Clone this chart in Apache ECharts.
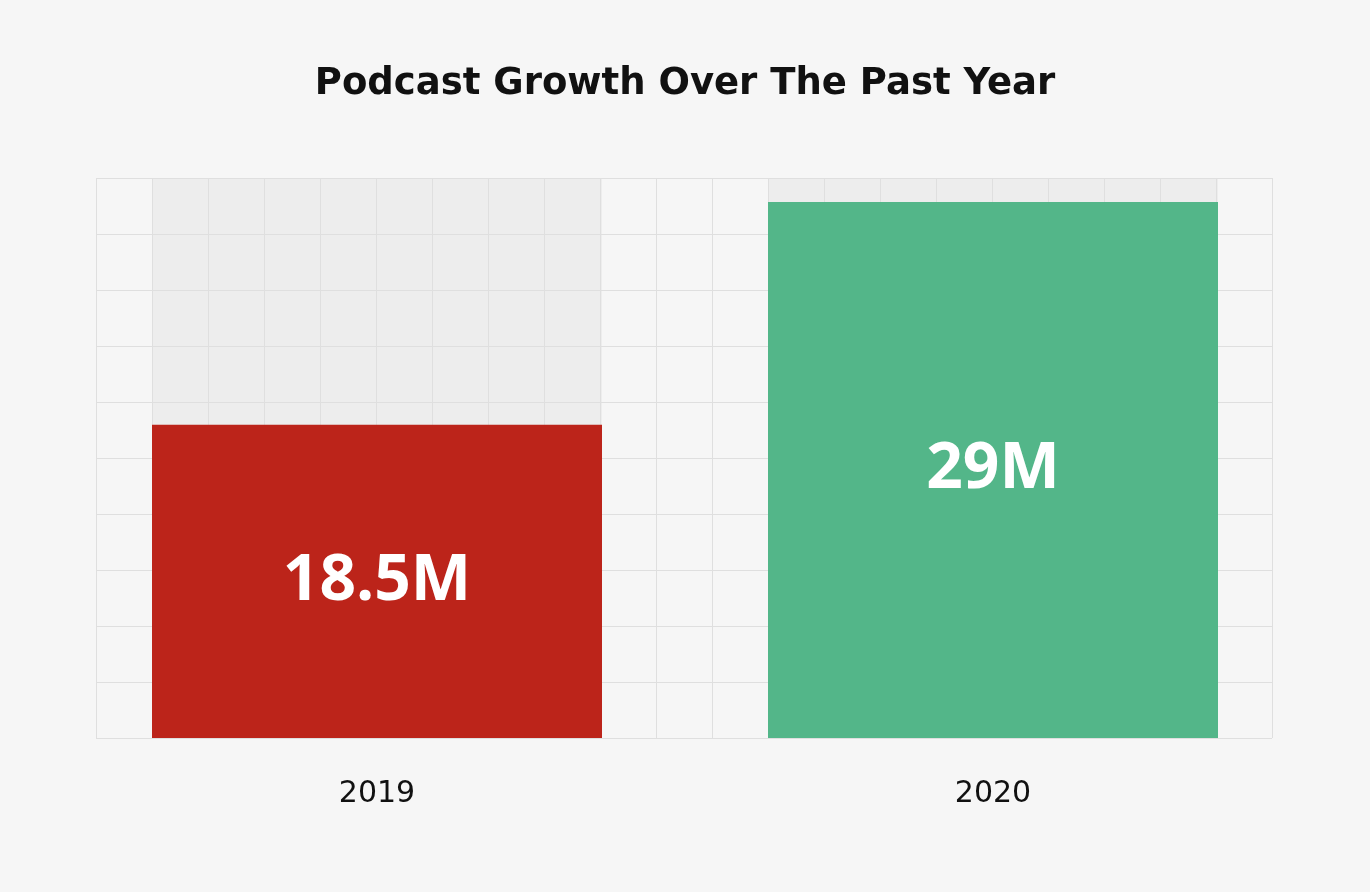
<!DOCTYPE html>
<html>
<head>
<meta charset="utf-8">
<script src="https://cdn.jsdelivr.net/npm/echarts@6/dist/echarts.min.js"></script>
<style>
html,body{margin:0;padding:0;background:#f6f6f6;}
#chart{width:1370px;height:892px;}
</style>
</head>
<body>
<div id="chart"></div>
<script>
const titleText = 'Podcast Growth Over The Past Year';
const categories = ['2019', '2020'];
const values = [18.5, 29];
const valueLabels = ['18.5M', '29M'];
const barColors = ['#bc241a', '#53b689'];

const yMin = 3.75, yMax = 30.125;

const chart = echarts.init(document.getElementById('chart'), null, {renderer: 'canvas'});
const option = {
  backgroundColor: '#f6f6f6',
  animation: false,
  title: {
    text: titleText,
    left: 'center',
    top: 61,
    textStyle: {fontFamily: 'DejaVu Sans', fontWeight: 'bold', fontSize: 37, color: '#111111'}
  },
  grid: [
    {left: 69, right: 69, top: 178, bottom: 154, containLabel: false},
    {left: 96, right: 98, top: 178, bottom: 154, containLabel: false}
  ],
  xAxis: [
    {
      type: 'category', gridIndex: 0, data: categories,
      axisLine: {show: false}, axisTick: {show: false}, splitLine: {show: false},
      axisLabel: {margin: 41, fontFamily: 'DejaVu Sans', fontWeight: 'normal', fontSize: 30, color: '#111111'}
    },
    {
      type: 'value', gridIndex: 1, min: 0, max: 21, interval: 1, z: 2,
      axisLine: {show: false}, axisTick: {show: false}, axisLabel: {show: false},
      splitLine: {show: true, lineStyle: {color: '#dfdfdf', width: 1}}
    }
  ],
  yAxis: [
    {
      type: 'value', gridIndex: 0, min: yMin, max: yMax,
      axisLine: {show: false}, axisTick: {show: false}, axisLabel: {show: false}, splitLine: {show: false}
    },
    {
      type: 'value', gridIndex: 1, min: 0, max: 10, interval: 1, z: 2,
      axisLine: {show: false}, axisTick: {show: false}, axisLabel: {show: false},
      splitLine: {show: true, lineStyle: {color: '#dfdfdf', width: 1}}
    }
  ],
  series: [
    {
      type: 'bar', xAxisIndex: 0, yAxisIndex: 0, z: 1,
      barWidth: 450, barGap: '-100%', silent: true,
      itemStyle: {color: '#ededed'},
      data: categories.map(() => yMax)
    },
    {
      type: 'bar', xAxisIndex: 0, yAxisIndex: 0, z: 3,
      barWidth: 450, barGap: '-100%',
      data: values.map((v, i) => ({value: v, itemStyle: {color: barColors[i]}})),
      label: {
        show: true, position: 'inside',
        formatter: p => valueLabels[p.dataIndex],
        fontFamily: 'Open Sans', fontWeight: 'bold', fontSize: 64, color: '#ffffff'
      }
    }
  ]
};
chart.setOption(option);
</script>
</body>
</html>
